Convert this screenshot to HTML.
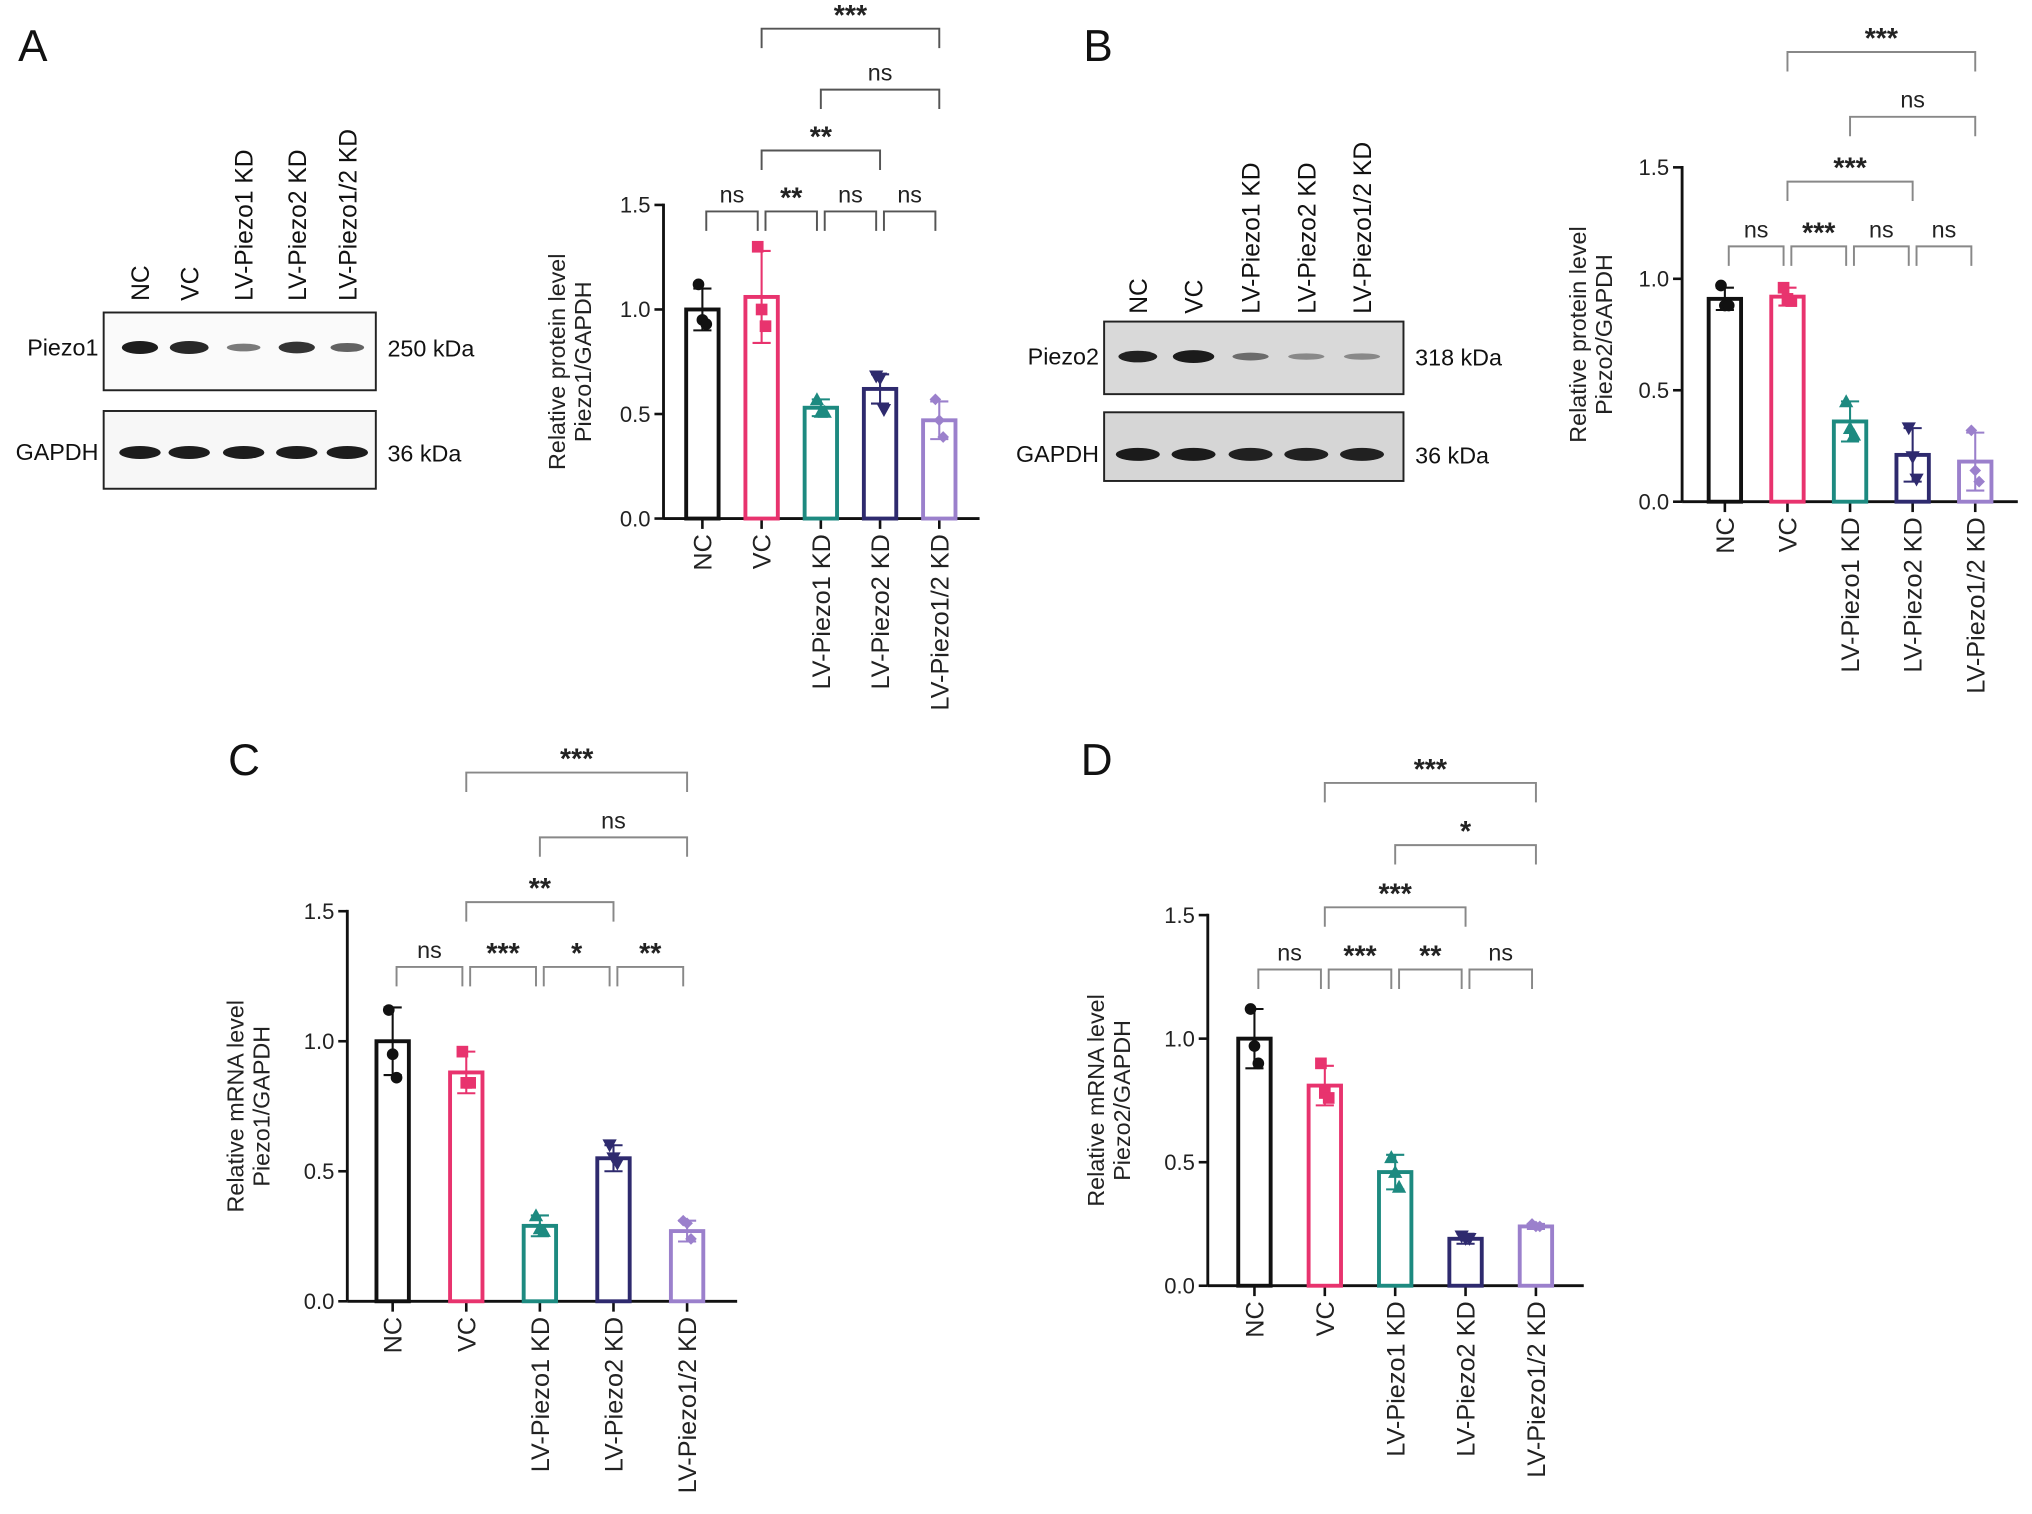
<!DOCTYPE html>
<html><head><meta charset="utf-8"><style>
html,body{margin:0;padding:0;background:#fff;}
svg{display:block;font-family:"Liberation Sans",Arial,sans-serif;}
</style></head><body>
<svg id="fig" width="2032" height="1514" viewBox="0 0 1568 1168" xmlns="http://www.w3.org/2000/svg">
<g id="blots"></g>
<g id="charts"></g>
</svg>
<script>
const NS="http://www.w3.org/2000/svg";
const categories=["NC","VC","LV-Piezo1 KD","LV-Piezo2 KD","LV-Piezo1/2 KD"];
const colors=["#111111","#e8336e","#1d8a80","#2e2a6e","#9b80cc"];
const markers=["circle","square","up","down","diamond"];
const ticks=[0,0.5,1.0,1.5];
const tickLabels=["0.0","0.5","1.0","1.5"];
// Panel A
const valsA=[1.0,1.06,0.53,0.62,0.47];
const errA=[0.1,0.22,0.04,0.07,0.09];
const ptsA=[[1.12,0.95,0.93],[1.3,1.0,0.92],[0.57,0.51,0.51],[0.68,0.67,0.52],[0.57,0.47,0.39]];
const sigA=[[0,1,"ns"],[1,2,"**"],[2,3,"ns"],[3,4,"ns"],[1,3,"**"],[2,4,"ns"],[1,4,"***"]];
// Panel B
const valsB=[0.91,0.92,0.36,0.21,0.18];
const errB=[0.05,0.04,0.09,0.12,0.13];
const ptsB=[[0.97,0.88,0.88],[0.96,0.91,0.9],[0.45,0.33,0.3],[0.33,0.2,0.1],[0.32,0.14,0.09]];
const sigB=[[0,1,"ns"],[1,2,"***"],[2,3,"ns"],[3,4,"ns"],[1,3,"***"],[2,4,"ns"],[1,4,"***"]];
// Panel C
const valsC=[1.0,0.88,0.29,0.55,0.27];
const errC=[0.13,0.08,0.04,0.05,0.04];
const ptsC=[[1.12,0.95,0.86],[0.96,0.84,0.84],[0.33,0.28,0.27],[0.6,0.55,0.53],[0.31,0.3,0.24]];
const sigC=[[0,1,"ns"],[1,2,"***"],[2,3,"*"],[3,4,"**"],[1,3,"**"],[2,4,"ns"],[1,4,"***"]];
// Panel D
const valsD=[1.0,0.81,0.46,0.19,0.24];
const errD=[0.12,0.08,0.07,0.02,0.01];
const ptsD=[[1.12,0.97,0.9],[0.9,0.78,0.76],[0.52,0.46,0.4],[0.2,0.19,0.19],[0.25,0.24,0.24]];
const sigD=[[0,1,"ns"],[1,2,"***"],[2,3,"**"],[3,4,"ns"],[1,3,"***"],[2,4,"*"],[1,4,"***"]];

function mk(tag,attrs,parent,text){const e=document.createElementNS(NS,tag);for(const k in attrs)e.setAttribute(k,attrs[k]);if(text!==undefined)e.textContent=text;parent.appendChild(e);return e;}

function chart(id,vals,errs,pts,sigs,cfg){
  const g=mk("g",{},document.getElementById("charts"));
  
  
  const y=v=>cfg.y0-(v/1.5)*(cfg.y0-cfg.y15);
  const x=i=>cfg.c0+i*cfg.step;
  const bw=28;
  const ax=mk("line",{x1:cfg.ax,y1:y(1.5)-1,x2:cfg.ax,y2:cfg.y0,stroke:"#111","stroke-width":2.2},g);
  
  
  const xx=mk("line",{x1:cfg.ax,y1:cfg.y0,x2:x(4)+cfg.step*0.68,y2:cfg.y0,stroke:"#111","stroke-width":2.2},g);
  
  
  ticks.forEach((t,k)=>{
    mk("line",{x1:cfg.ax-7,y1:y(t),x2:cfg.ax,y2:y(t),stroke:"#111","stroke-width":2},g);
    const tl=mk("text",{x:cfg.ax-10,y:y(t)+6,"text-anchor":"end","font-size":17,fill:"#222"},g,tickLabels[k]);
    
    
  });
  const cx=cfg.ax-cfg.tt;
  const t1=mk("text",{transform:`translate(${cx-20},${(cfg.y0+cfg.y15)/2+cfg.tyo}) rotate(-90)`,"text-anchor":"middle","font-size":18,fill:"#222"},g,cfg.title1);
  
  
  const t2=mk("text",{transform:`translate(${cx},${(cfg.y0+cfg.y15)/2+cfg.tyo}) rotate(-90)`,"text-anchor":"middle","font-size":18,fill:"#222"},g,cfg.title2);
  
  
  vals.forEach((v,i)=>{
    const c=colors[i];
    mk("line",{x1:x(i),y1:cfg.y0,x2:x(i),y2:cfg.y0+8,stroke:"#111","stroke-width":2},g);
    const lb=mk("text",{transform:`translate(${x(i)+7},${cfg.y0+12}) rotate(-90)`,"text-anchor":"end","font-size":19.5,fill:"#222"},g,categories[i]);
    
    
    const b=mk("rect",{x:x(i)-bw/2+1.5,y:y(v),width:bw-3,height:cfg.y0-y(v),fill:"none",stroke:c,"stroke-width":3},g);
    
    
    const e=errs[i];
    mk("line",{x1:x(i),y1:y(v+e),x2:x(i),y2:y(v-e),stroke:c,"stroke-width":1.6},g);
    mk("line",{x1:x(i)-7,y1:y(v+e),x2:x(i)+7,y2:y(v+e),stroke:c,"stroke-width":1.6},g);
    mk("line",{x1:x(i)-7,y1:y(v-e),x2:x(i)+7,y2:y(v-e),stroke:c,"stroke-width":1.6},g);
    pts[i].forEach((p,j)=>{
      const px=x(i)+(j-1)*3,py=y(p);let m;
      const s=4.5;
      if(markers[i]=="circle")m=mk("circle",{cx:px,cy:py,r:s},g);
      else if(markers[i]=="square")m=mk("rect",{x:px-s,y:py-s,width:2*s,height:2*s},g);
      else if(markers[i]=="up")m=mk("polygon",{points:`${px},${py-s-1} ${px-s-1},${py+s} ${px+s+1},${py+s}`},g);
      else if(markers[i]=="down")m=mk("polygon",{points:`${px},${py+s+1} ${px-s-1},${py-s} ${px+s+1},${py-s}`},g);
      else m=mk("polygon",{points:`${px},${py-s} ${px+s},${py} ${px},${py+s} ${px-s},${py}`},g);
      m.setAttribute("fill",c);
      
      
    });
  });
  sigs.forEach((s,k)=>{
    const [a,b,lab]=s;
    let by,x1,x2;
    if(b-a==1){by=cfg.b0;x1=x(a)+3;x2=x(b)-3;}
    else if(b-a==2){by=cfg.b0-cfg.bs*(a==1?1:2);x1=x(a);x2=x(b);}
    else {by=cfg.b0-cfg.bs*3;x1=x(a);x2=x(b);}
    const col=cfg.bc;
    mk("polyline",{points:`${x1},${by+15} ${x1},${by} ${x2},${by} ${x2},${by+15}`,fill:"none",stroke:col,"stroke-width":1.5},g);
    const st=lab.includes("*");
    const tx=mk("text",{x:(x1+x2)/2,y:by-(st?3:7),"text-anchor":"middle","font-size":st?22:18,"font-weight":st?"bold":"normal",fill:"#222"},g,lab);
    
    
  });
}
chart("chart-a-protein-piezo1",valsA,errA,ptsA,sigA,{ax:512,y0:400,y15:158,c0:542,step:45.7,b0:163,bs:47,bc:"#555",tt:56,tyo:0,title1:"Relative protein level",title2:"Piezo1/GAPDH"});
chart("chart-b-protein-piezo2",valsB,errB,ptsB,sigB,{ax:1298,y0:387,y15:129,c0:1331,step:48.3,b0:190,bs:50,bc:"#888",tt:54,tyo:0,title1:"Relative protein level",title2:"Piezo2/GAPDH"});
chart("chart-c-mrna-piezo1",valsC,errC,ptsC,sigC,{ax:268,y0:1004,y15:703,c0:303,step:56.8,b0:746,bs:50,bc:"#888",tt:60,tyo:0,title1:"Relative mRNA level",title2:"Piezo1/GAPDH"});
chart("chart-d-mrna-piezo2",valsD,errD,ptsD,sigD,{ax:932,y0:992,y15:706,c0:968,step:54.3,b0:748,bs:48,bc:"#888",tt:60,tyo:0,title1:"Relative mRNA level",title2:"Piezo2/GAPDH"});

const L=document.getElementById("fig");
[["A",14,47],["B",836,47],["C",176,598],["D",834,598]].forEach(p=>{
  const t=mk("text",{x:p[1],y:p[2],"font-size":34,fill:"#111"},L,p[0]);
  
  
});
const B=document.getElementById("blots");
const lanes=["NC","VC","LV-Piezo1 KD","LV-Piezo2 KD","LV-Piezo1/2 KD"];
function blot(lx,labY,boxes){
  lx.forEach((x,i)=>{
    const t=mk("text",{transform:`translate(${x+7},${labY}) rotate(-90)`,"font-size":19,fill:"#111"},B,lanes[i]);
    
    
  });
  boxes.forEach(bx=>{
    const r=mk("rect",{x:bx.x,y:bx.y,width:bx.w,height:bx.h,fill:bx.bg,stroke:"#222","stroke-width":1.5},B);
    
    
    lx.forEach((x,i)=>{
      mk("ellipse",{cx:x,cy:bx.y+bx.h/2+bx.dy,rx:bx.rx[i],ry:bx.ry[i],fill:"#111","fill-opacity":bx.op[i]},B);
    });
    const nl=mk("text",{x:bx.x-4,y:bx.y+bx.h/2+bx.dy+6,"text-anchor":"end","font-size":18,fill:"#111"},B,bx.name);
    
    
    const kd=mk("text",{x:bx.x+bx.w+9,y:bx.y+bx.h/2+bx.dy+7,"font-size":18,fill:"#111"},B,bx.kda);
    
    
  });
}
blot([108,146,188,229,268],232,[
 {name:"Piezo1",kda:"250 kDa",x:80,y:241,w:210,h:60,bg:"#fafafa",dy:-3,rx:[14,15,13,14,13],ry:[5,5,3,4.5,3.5],op:[0.95,0.9,0.55,0.85,0.65]},
 {name:"GAPDH",kda:"36 kDa",x:80,y:317,w:210,h:60,bg:"#f7f7f7",dy:2,rx:[16,16,16,16,16],ry:[5,5,5,5,5],op:[0.95,0.95,0.95,0.95,0.95]}
]);
blot([878,921,965,1008,1051],242,[
 {name:"Piezo2",kda:"318 kDa",x:852,y:248,w:231,h:56,bg:"#d9d9d9",dy:-1,rx:[15,16,14,14,14],ry:[4.5,5,3,2.5,2.5],op:[0.92,0.95,0.55,0.4,0.4]},
 {name:"GAPDH",kda:"36 kDa",x:852,y:318,w:231,h:53,bg:"#d6d6d6",dy:6,rx:[17,17,17,17,17],ry:[5,5,5,5,5],op:[0.95,0.95,0.92,0.92,0.92]}
]);
</script>
</body></html>
